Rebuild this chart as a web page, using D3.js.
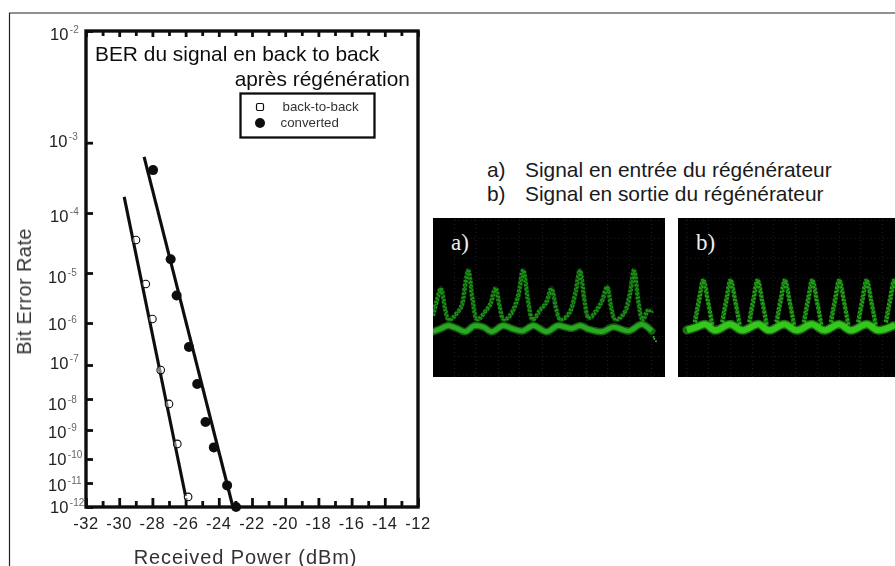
<!DOCTYPE html>
<html><head><meta charset="utf-8">
<script src="https://cdn.jsdelivr.net/npm/d3@7"></script>
<style>
html,body{margin:0;padding:0;background:#fff}
svg{display:block}
text{font-family:"Liberation Sans",Arial,sans-serif;fill:#1c1c1c}
</style></head><body>
<svg id="c" width="895" height="566"></svg>
<script>
// ---- data ----
const xTicksMajor = [-32,-30,-28,-26,-24,-22,-20,-18,-16,-14,-12];
const xTicksMinor = [-31,-29,-27,-25,-23,-21,-19,-17,-15,-13];
const yExponents  = [-2,-3,-4,-5,-6,-7,-8,-9,-10,-11,-12];
const backPower   = [-28.99,-28.4,-28.0,-27.5,-27.0,-26.5,-25.85];
const backLogBer  = [-4.45,-5.22,-5.92,-7.15,-8.16,-9.48,-11.58];
const convPower   = [-27.96,-26.9,-26.54,-25.8,-25.3,-24.8,-24.3,-23.5,-22.96];
const convLogBer  = [-3.39,-4.77,-5.45,-6.57,-7.56,-8.74,-9.6,-11.1,-12];
const backFitX = [-29.7,-26.0], backFitY = [-3.77,-11.55];
const convFitX = [-28.5,-23.15], convFitY = [-3.2,-12];
const titleLines = ["BER du signal en back to back","après régénération"];
const legendLabels = ["back-to-back","converted"];
const captions = ["Signal en entrée du régénérateur","Signal en sortie du régénérateur"];
const captionTags = ["a)","b)"];
// oscilloscope traces, in divisions-like units of a 720x540 crop
const aUpper = [[24,330],[36,285],[48,250],[60,310],[70,345],[95,325],[112,295],[122,230],[130,195],[142,280],[155,345],[180,320],[197,295],[212,250],[224,305],[235,345],[262,320],[280,270],[295,195],[308,280],[322,345],[345,315],[365,290],[380,250],[392,305],[405,345],[435,320],[452,260],[465,195],[478,285],[490,340],[515,315],[532,285],[547,245],[558,305],[570,345],[600,320],[616,260],[627,195],[640,290],[652,345],[670,315],[680,320]];
const aBase  = [[24,380],[45,372],[70,362],[95,370],[120,380],[150,362],[175,366],[200,380],[235,362],[265,372],[290,378],[325,362],[365,380],[400,362],[440,370],[465,362],[490,372],[530,380],[565,366],[610,378],[650,358],[680,378]];
const aStray = [[686,396],[688,402],[693,409]];
const bUpper = [[90,350],[103,280],[115,225],[128,285],[142,360]];
const bPeaksShift = [0,82,163,245,327,408,490,573];
const bBase  = [[66,375],[90,368],[120,358],[150,376],[195,358],[232,376],[280,358],[312,376],[358,358],[395,376],[440,358],[478,376],[522,358],[558,376],[605,358],[640,376],[690,360]];
const aGridX = [88,153,220,283,352,420,485,548,613,680];
const aGridY = [45,100,160,220,280,335,395,455,510];
const bGridX = [65,130,197,263,325,392,458,523,587,652];
const bGridY = [45,100,160,220,280,395,455,510];

// ---- layout ----
const svg = d3.select("#c");
const x = d3.scaleLinear().domain([-32,-12]).range([86,418]);
const y = d3.scaleLinear().domain(yExponents).range([31,142.7,213,273,323,365,399,430,459,483,507]);
const yLabelDy = [9,4,9,9.5,7,4,11,8,6,8,6];
const yLabelX  = [50,49,50,48,48,50,48,48,48,48,50];
const ink = "#0c0c0c";

const defs = svg.append("defs");
defs.append("filter").attr("id","soft").append("feGaussianBlur").attr("stdDeviation",0.55);
defs.append("filter").attr("id","chartSoft").attr("x","-2%").attr("y","-2%").attr("width","104%").attr("height","104%").attr("filterUnits","objectBoundingBox").append("feGaussianBlur").attr("stdDeviation",0.5);
defs.append("clipPath").attr("id","clipB").append("rect").attr("x",678).attr("y",218).attr("width",217).attr("height",159);
defs.append("clipPath").attr("id","clipA").append("rect").attr("x",433).attr("y",218).attr("width",232).attr("height",159);

svg.append("path").attr("d","M895,13H9.5V566").attr("fill","none").attr("stroke","#222").attr("stroke-width",1.2);

const chart = svg.append("g").attr("filter","url(#chartSoft)");

// axes
function styleAxis(g){ g.select(".domain").remove(); g.selectAll("line").attr("stroke",ink).attr("stroke-width",2.8); g.selectAll("text").remove(); }
chart.append("g").attr("transform","translate(0,507)").call(d3.axisBottom(x).tickValues(xTicksMajor).tickSize(-9).tickFormat("")).call(styleAxis);
chart.append("g").attr("transform","translate(0,507)").call(d3.axisBottom(x).tickValues(xTicksMinor).tickSize(-6).tickFormat("")).call(styleAxis);
chart.append("g").attr("transform","translate(0,31)").call(d3.axisTop(x).tickValues(xTicksMajor).tickSize(-6).tickFormat("")).call(styleAxis);
chart.append("g").attr("transform","translate(0,31)").call(d3.axisTop(x).tickValues(xTicksMinor).tickSize(-5).tickFormat("")).call(styleAxis);
chart.append("g").attr("transform","translate(86,0)").call(d3.axisLeft(y).tickValues(yExponents).tickSize(-7).tickFormat("")).call(styleAxis);
chart.append("rect").attr("x",86).attr("y",31).attr("width",332).attr("height",476).attr("fill","none").attr("stroke",ink).attr("stroke-width",3.4);

// tick labels
chart.append("g").selectAll("text").data(xTicksMajor).join("text")
  .attr("x",d=>x(d)).attr("y",529).attr("text-anchor","middle")
  .attr("font-size",16.5).attr("letter-spacing",0.6).style("fill","#222").text(d=>d);
const yl = chart.append("g").selectAll("text").data(yExponents).join("text")
  .attr("y",(d,i)=>y(d)+yLabelDy[i]).attr("x",(d,i)=>yLabelX[i]).attr("font-size",16.5).style("fill","#222");
yl.append("tspan").text("10");
yl.append("tspan").attr("dy",-7).attr("dx",1.5).attr("font-size",10).style("fill","#666").text(d=>d);

chart.append("text").attr("x",245.5).attr("y",563.5).attr("text-anchor","middle").attr("font-size",20).attr("letter-spacing",0.9).style("fill","#333").text("Received Power (dBm)");
chart.append("text").attr("transform","translate(31,291.5) rotate(-90)").attr("text-anchor","middle").attr("font-size",20).attr("letter-spacing",0.4).style("fill","#333").text("Bit Error Rate");

// title
chart.append("text").attr("x",95).attr("y",61).attr("font-size",20.9).style("fill","#111").text(titleLines[0]);
chart.append("text").attr("x",410).attr("y",86).attr("text-anchor","end").attr("font-size",20.9).style("fill","#111").text(titleLines[1]);

// legend
chart.append("rect").attr("x",240.5).attr("y",93.5).attr("width",134).attr("height",44).attr("fill","#fff").attr("stroke",ink).attr("stroke-width",2.3);
chart.append("rect").attr("x",256.5).attr("y",103.5).attr("width",7).attr("height",7).attr("rx",1.5).attr("fill","#fff").attr("stroke",ink).attr("stroke-width",1.2);
chart.append("circle").attr("cx",260).attr("cy",123).attr("r",5).attr("fill",ink);
chart.append("text").attr("x",282.5).attr("y",111).attr("font-size",13.3).style("fill","#333").text(legendLabels[0]);
chart.append("text").attr("x",280.5).attr("y",127).attr("font-size",13.3).style("fill","#333").text(legendLabels[1]);

// fits
const fit = d3.line().x(d=>x(d[0])).y(d=>y(d[1]));
chart.append("path").datum(d3.zip(backFitX,backFitY)).attr("d",fit).attr("fill","none").attr("stroke",ink).attr("stroke-width",3.1);
chart.append("path").datum(d3.zip(convFitX,convFitY)).attr("d",fit).attr("fill","none").attr("stroke",ink).attr("stroke-width",3.1);

// points
chart.append("g").selectAll("circle").data(d3.zip(backPower,backLogBer)).join("circle")
  .attr("cx",d=>x(d[0])).attr("cy",d=>y(d[1])).attr("r",3.8).attr("fill","#fff").attr("fill-opacity",0.45).attr("stroke",ink).attr("stroke-width",1.1);
chart.append("g").selectAll("circle").data(d3.zip(convPower,convLogBer)).join("circle")
  .attr("cx",d=>x(d[0])).attr("cy",d=>y(d[1])).attr("r",5).attr("fill",ink);

// captions
captions.forEach((c,i)=>{
  const yy = 177+i*24;
  svg.append("text").attr("x",487).attr("y",yy).attr("font-size",20.9).style("fill","#1a1a1a").text(captionTags[i]);
  svg.append("text").attr("x",525).attr("y",yy).attr("font-size",20.9).style("fill","#1a1a1a").text(c);
});

// oscilloscope panels
function panel(px,pw,x0,clip,upper,base,gridX,gridY,tag,tagX,upCol,baseCol,baseW,upW){
  svg.append("rect").attr("x",px).attr("y",218).attr("width",pw).attr("height",159).attr("fill","#000");
  const sx = d3.scaleLinear().domain([0,720]).range([x0,x0+240]);
  const sy = d3.scaleLinear().domain([0,540]).range([205,385]);
  const g = svg.append("g").attr("clip-path",`url(#${clip})`);
  const dotted = "1 3";
  g.selectAll(".gx").data(gridX).join("line").attr("x1",d=>sx(d)).attr("x2",d=>sx(d)).attr("y1",sy(45)).attr("y2",377)
    .attr("stroke","#222").attr("stroke-dasharray",dotted);
  g.selectAll(".gy").data(gridY).join("line").attr("y1",d=>sy(d)).attr("y2",d=>sy(d)).attr("x1",sx(gridX[0])).attr("x2",x0+240)
    .attr("stroke","#222").attr("stroke-dasharray",dotted);
  const ln = d3.line().x(d=>sx(d[0])).y(d=>sy(d[1])).curve(d3.curveMonotoneX);
  const tr = g.append("g").attr("filter","url(#soft)");
  const layers = [[-1.3,-0.4,"1 3.2"],[1.3,0.5,"1.2 2.7"],[0,0,"1 2.3"]];
  upper.forEach(seg=>{
    tr.append("path").datum(seg).attr("d",ln).attr("fill","none").attr("stroke",upCol).attr("stroke-opacity",0.28).attr("stroke-width",upW).attr("stroke-linejoin","round");
    layers.forEach(l=>{
      tr.append("path").datum(seg).attr("d",ln).attr("transform",`translate(${l[0]},${l[1]})`).attr("fill","none").attr("stroke",upCol)
        .attr("stroke-width",1.7).attr("stroke-dasharray",l[2]).attr("stroke-linecap","round");
    });
  });
  tr.append("path").datum(base).attr("d",ln).attr("fill","none").attr("stroke",baseCol).attr("stroke-opacity",0.85).attr("stroke-width",baseW).attr("stroke-linejoin","round");
  tr.append("path").datum(base).attr("d",ln).attr("fill","none").attr("stroke",baseCol).attr("stroke-width",baseW+3)
    .attr("stroke-opacity",0.5).attr("stroke-dasharray","1.5 2.2").attr("stroke-linecap","round");
  svg.append("text").attr("x",tagX).attr("y",250).attr("font-size",23).style("font-family","'Liberation Serif',serif").style("fill","#eee").text(tag);
  return {g:tr,sx,sy};
}
const pa = panel(433,232,425,"clipA",[aUpper],aBase,aGridX,aGridY,"a)",451,"#1c8f19","#2cb522",4.6,5);
pa.g.selectAll(".stray").data(aStray).join("circle").attr("cx",d=>pa.sx(d[0])).attr("cy",d=>pa.sy(d[1])).attr("r",1).attr("fill","#2fbd24");
panel(678,217,665,"clipB",bPeaksShift.map(s=>bUpper.map(p=>[p[0]+s,p[1]])),bBase,bGridX,bGridY,"b)",696,"#23a018","#38d820",6,5);
</script>
</body></html>
